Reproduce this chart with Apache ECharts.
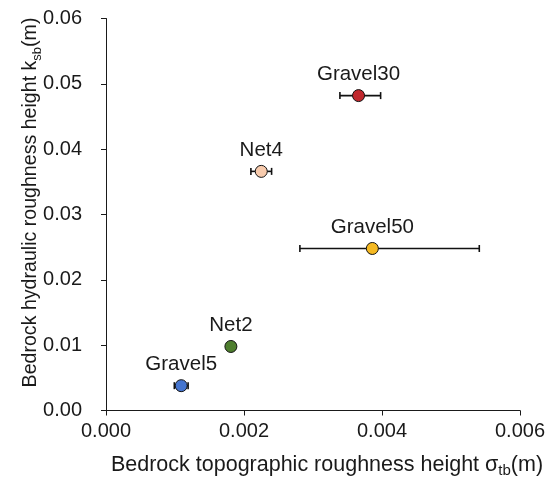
<!DOCTYPE html>
<html>
<head>
<meta charset="utf-8">
<script src="https://cdn.jsdelivr.net/npm/echarts@6/dist/echarts.min.js"></script>
<style>
  html, body { margin: 0; padding: 0; background: #fff; }
  #chart { width: 548px; height: 481px; }
</style>
</head>
<body>
<div id="chart"></div>
<script>
// Surface names
const names = ['Gravel30', 'Net4', 'Gravel50', 'Net2', 'Gravel5'];
// Bedrock topographic roughness height σtb (m)
const sigmaTb = [0.00366, 0.00225, 0.00386, 0.00181, 0.00109];
// Horizontal error bar limits (m)
const sigmaLow = [0.00339, 0.00210, 0.00281, 0.00175, 0.00099];
const sigmaHigh = [0.00398, 0.00240, 0.00541, 0.00187, 0.00119];
// Bedrock hydraulic roughness height ksb (m)
const ksb = [0.0482, 0.0366, 0.0248, 0.0098, 0.0038];
// Marker fill colours
const colors = ['#C0272D', '#F8CBAD', '#F5B922', '#4E7E2E', '#4575CF'];
// Tick values
const xTicks = [0, 0.002, 0.004, 0.006];
const yTicks = [0, 0.01, 0.02, 0.03, 0.04, 0.05, 0.06];

const FONT = '"Liberation Sans", Arial, sans-serif';
const INK = '#1a1a1a';
const chart = echarts.init(document.getElementById('chart'), null, { renderer: 'canvas' });

const points = names.map((n, i) => ({
  value: [sigmaTb[i], ksb[i]],
  name: n,
  itemStyle: { color: colors[i] }
}));
const bars = names.map((n, i) => [sigmaLow[i], sigmaHigh[i], ksb[i]]);

// Rich text styles for axis titles with subscripts
function titleRich(size) {
  return {
    a: { fontSize: size, fontFamily: FONT, color: INK, lineHeight: 26 },
    s: { fontSize: Math.round(size * 0.68), fontFamily: FONT, color: INK,
         lineHeight: Math.round(size * 0.68), verticalAlign: 'bottom' }
  };
}

chart.setOption({
  animation: false,
  grid: { left: 106, right: 28, top: 18.5, bottom: 70.5, containLabel: false, outerBoundsMode: 'none' },
  xAxis: {
    type: 'value',
    min: xTicks[0], max: xTicks[xTicks.length - 1], interval: xTicks[1] - xTicks[0],
    splitLine: { show: false },
    axisLine: { onZero: false, lineStyle: { color: INK, width: 1 } },
    axisTick: { show: true, inside: false, length: 5, lineStyle: { color: INK } },
    axisLabel: { color: INK, fontFamily: FONT, fontSize: 20, margin: 11,
                 formatter: v => v.toFixed(3) },
    name: '{a|Bedrock topographic roughness height σ}{s|tb}{a|(m)}',
    nameLocation: 'middle', nameGap: 42, nameMoveOverlap: false,
    nameTextStyle: { color: INK, fontFamily: FONT, padding: [0, 0, 0, 28], rich: titleRich(21.5) }
  },
  yAxis: {
    type: 'value',
    min: yTicks[0], max: yTicks[yTicks.length - 1], interval: yTicks[1] - yTicks[0],
    splitLine: { show: false },
    axisLine: { show: true, onZero: false, lineStyle: { color: INK, width: 1 } },
    axisTick: { show: true, inside: false, length: 5, lineStyle: { color: INK } },
    axisLabel: { color: INK, fontFamily: FONT, fontSize: 20, margin: 24,
                 formatter: v => v.toFixed(2) },
    name: '{a|Bedrock hydraulic roughness height k}{s|sb}{a|(m)}',
    nameLocation: 'middle', nameGap: 62, nameRotate: 90, nameMoveOverlap: false,
    nameTextStyle: { color: INK, fontFamily: FONT, padding: [0, 0, 0, 24], rich: titleRich(19.6) }
  },
  series: [
    {
      type: 'custom',
      data: bars,
      z: 1,
      renderItem: function (params, api) {
        const y = api.value(2);
        const p0 = api.coord([api.value(0), y]);
        const p1 = api.coord([api.value(1), y]);
        const cap = 3.5;
        const style = { stroke: '#111', lineWidth: 1.6 };
        return {
          type: 'group',
          children: [
            { type: 'line', shape: { x1: p0[0], y1: p0[1], x2: p1[0], y2: p1[1] }, style },
            { type: 'line', shape: { x1: p0[0], y1: p0[1] - cap, x2: p0[0], y2: p0[1] + cap }, style },
            { type: 'line', shape: { x1: p1[0], y1: p1[1] - cap, x2: p1[0], y2: p1[1] + cap }, style }
          ]
        };
      }
    },
    {
      type: 'scatter',
      data: points,
      z: 2,
      symbol: 'circle',
      symbolSize: 12,
      itemStyle: { borderColor: '#111', borderWidth: 1, opacity: 1 },
      label: {
        show: true, position: 'top', distance: 4,
        formatter: p => p.name,
        color: INK, fontFamily: FONT, fontSize: 20.5
      }
    }
  ]
});
</script>
</body>
</html>
